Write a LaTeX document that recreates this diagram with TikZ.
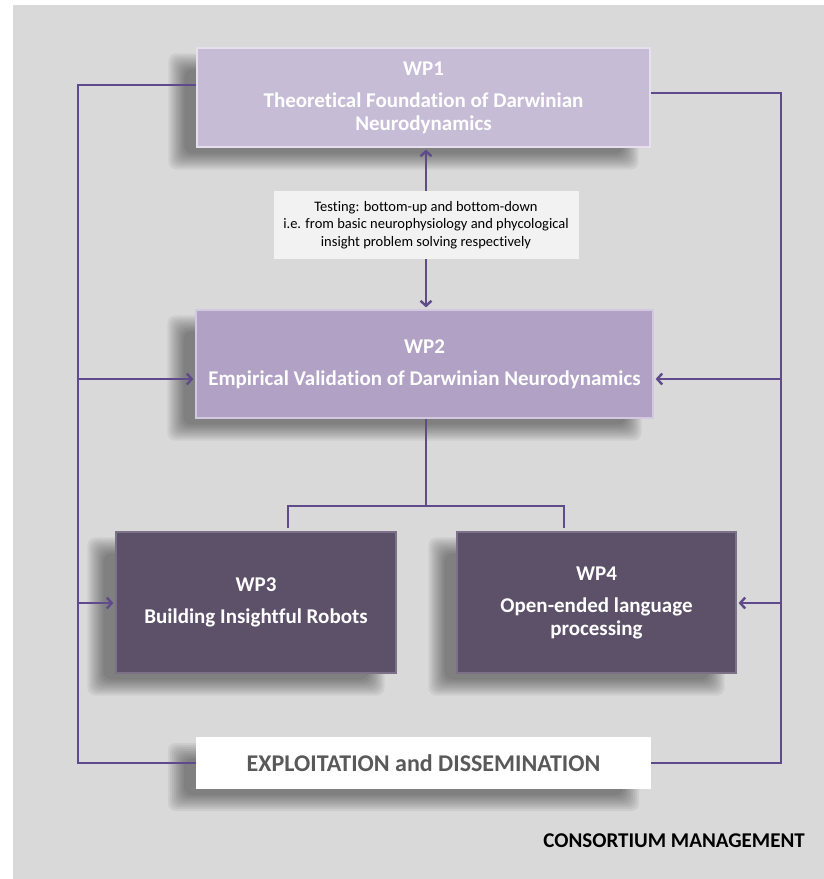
\documentclass[tikz,border=0pt]{standalone}
\usepackage{fontspec}
\setmainfont{Carlito}[Ligatures=NoCommon]
\usetikzlibrary{arrows.meta,backgrounds}
\definecolor{bggray}{HTML}{D9D9D9}
\definecolor{lineP}{HTML}{5F4A8B}
\definecolor{wpA}{HTML}{C6BCD6}
\definecolor{wpAb}{HTML}{E6E0EE}
\definecolor{wpB}{HTML}{B0A1C5}
\definecolor{wpBb}{HTML}{D2C8E0}
\definecolor{wpC}{HTML}{5D516A}
\definecolor{wpCb}{HTML}{7C7188}
\definecolor{testbg}{HTML}{F2F2F2}
\definecolor{exptext}{HTML}{595959}
\tikzset{
  wpbox/.style={draw,line width=1.2pt,inner sep=0pt,align=center,text=white,
     font=\fontsize{21}{23}\selectfont\bfseries},
  conn/.style={draw=lineP,line width=2.4pt},
  arr/.style={conn,-{Straight Barb[length=5pt,width=11pt,line width=2.4pt]}},
  shadowlayer/.style={fill=black,fill opacity=0.055,rounded corners=8pt},
}
\newcommand{\softshadow}[1]{%
  \foreach \k in {0,2,...,16}{%
    \fill[shadowlayer] ([shift={(-20-8+\k,14+8-\k)}]#1.south west) rectangle ([shift={(-20+8-\k,14-8+\k)}]#1.north east);
  }}
\begin{document}
\begin{tikzpicture}[x=1pt,y=-1pt]
\useasboundingbox (0,0) rectangle (824,879);

\node[wpbox,fill=wpA,draw=wpAb,minimum width=453pt,minimum height=99pt] (WP1) at (423.5,97.5)
  {WP1\\[9pt]Theoretical Foundation of Darwinian\\Neurodynamics};
\node[fill=testbg,inner sep=0pt,minimum width=305pt,minimum height=68pt,align=center,
  font=\fontsize{14.5}{17.5}\selectfont] (T) at (426,225)
  {Testing: bottom-up and bottom-down\\i.e. from basic neurophysiology and phycological\\insight problem solving respectively};
\node[wpbox,fill=wpB,draw=wpBb,minimum width=457pt,minimum height=108pt] (WP2) at (424.5,364)
  {WP2\\[9pt]Empirical Validation of Darwinian Neurodynamics};
\node[wpbox,fill=wpC,draw=wpCb,minimum width=280pt,minimum height=141pt] (WP3) at (256,602.5)
  {WP3\\[9pt]Building Insightful Robots};
\node[wpbox,fill=wpC,draw=wpCb,minimum width=279pt,minimum height=141pt] (WP4) at (596.5,602.5)
  {WP4\\[9pt]Open-ended language\\processing};
\node[fill=white,inner sep=0pt,minimum width=455pt,minimum height=52pt,text=exptext,
  font=\fontsize{24}{28}\selectfont\bfseries] (EXP) at (423.5,763)
  {EXPLOITATION and DISSEMINATION};
\node[anchor=east,inner sep=0pt,font=\fontsize{21}{24}\selectfont\bfseries] (CM) at (805,841)
  {CONSORTIUM MANAGEMENT};

\begin{pgfonlayer}{background}
  \fill[bggray] (13,5) rectangle (824,879);
  \softshadow{WP1}
  \softshadow{WP2}
  \softshadow{WP3}
  \softshadow{WP4}
  \softshadow{EXP}
\end{pgfonlayer}

\coordinate (lt) at (78,85);
\coordinate (lb) at (78,763);
\coordinate (rt) at (781,93);
\coordinate (rb) at (781,763);
\coordinate (lw2) at (78,379);
\coordinate (rw2) at (781,379);
\coordinate (lw3) at (78,603);
\coordinate (rw4) at (781,603);
\coordinate (j) at (426,506);
\coordinate (b3) at (288,506);
\coordinate (b4) at (564,506);

\draw[conn] (WP1.west |- lt) -- (lt) -- (lb) -- (EXP.west);
\draw[conn] (WP1.east |- rt) -- (rt) -- (rb) -- (EXP.east);
\draw[arr] (lw2) -- ([xshift=-2pt]WP2.west |- lw2);
\draw[arr] (rw2) -- ([xshift=2pt]WP2.east |- rw2);
\draw[arr] (lw3) -- ([xshift=-2pt]WP3.west |- lw3);
\draw[arr] (rw4) -- ([xshift=2pt]WP4.east |- rw4);
\draw[arr] (T.north) -- ([yshift=-2pt]T.north |- WP1.south);
\draw[arr] (T.south) -- ([yshift=2pt]T.south |- WP2.north);
\draw[conn] (WP2.south -| j) -- (j);
\draw[conn] ([yshift=3pt]b3 |- WP3.north) -- (b3) -- (b4) -- ([yshift=3pt]b4 |- WP4.north);
\end{tikzpicture}
\end{document}
